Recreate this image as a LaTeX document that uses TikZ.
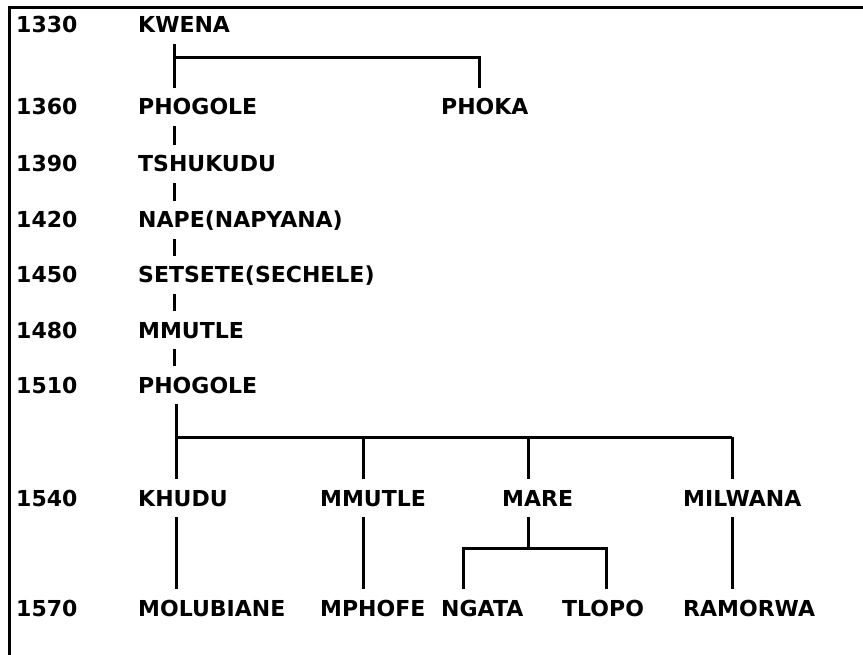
\documentclass[tikz,border=0pt]{standalone}
\usepackage{fontspec}
\setmainfont{DejaVu Sans}
\usetikzlibrary{positioning,calc}

\tikzset{
  yearlbl/.style={anchor=base west, font=\bfseries\fontsize{22}{22}\selectfont, inner sep=0pt},
  person/.style={anchor=base west, font=\bfseries\fontsize{22}{22}\selectfont,
    inner xsep=0pt, inner ysep=11pt, text height=16pt, text depth=0pt},
  link/.style={line width=3pt}
}

\begin{document}
\begin{tikzpicture}[x=1pt,y=-1pt]
\useasboundingbox (0,0) rectangle (863,655);
\draw[link] (9,655) -- (9,7.5) -- (863,7.5);

% years
\foreach \yr/\yb in {1330/33,1360/115,1390/172,1420/228,1450/283,1480/338,1510/393,1540/506,1570/616}
  \node[yearlbl] (y\yr) at (16,\yb) {\yr};

% line of descent
\node[person] (kwena) at (138,33) {KWENA};
\node[person] (phogoleA) at (138,115) {PHOGOLE};
\node[person] (phoka) at (441,115) {PHOKA};
\node[person] (tshukudu) at (138,172) {TSHUKUDU};
\node[person] (nape) at (138,228) {NAPE(NAPYANA)};
\node[person] (setsete) at (138,283) {SETSETE(SECHELE)};
\node[person] (mmutleA) at (138,338) {MMUTLE};
\node[person] (phogoleB) at (138,393) {PHOGOLE};
\node[person] (khudu) at (138,506) {KHUDU};
\node[person] (mmutleB) at (320,506) {MMUTLE};
\node[person] (mare) at (502,506) {MARE};
\node[person] (milwana) at (683,506) {MILWANA};
\node[person] (molubiane) at (138,616) {MOLUBIANE};
\node[person] (mphofe) at (320,616) {MPHOFE};
\node[person] (ngata) at (441,616) {NGATA};
\node[person] (tlopo) at (562,616) {TLOPO};
\node[person] (ramorwa) at (683,616) {RAMORWA};

% KWENA and his sons
\coordinate (kbar) at (174,58);
\coordinate (pbar) at (479,58);
\draw[link] (kbar |- kwena.south) -- (kbar |- phogoleA.north);
\draw[link] (kbar) -- (pbar) -- (pbar |- phoka.north);

\foreach \up/\dn in {phogoleA/tshukudu,tshukudu/nape,nape/setsete,setsete/mmutleA,mmutleA/phogoleB}
  \draw[link] (kbar |- \up.south) -- (kbar |- \dn.north);

% sons of PHOGOLE
\coordinate (bA) at (176,437);
\coordinate (bB) at (363,437);
\coordinate (bC) at (528,437);
\coordinate (bD) at (732,437);
\draw[link] (bA |- phogoleB.south) -- (bA) -- (bD);
\draw[link] (bA) -- (bA |- khudu.north);
\draw[link] (bB) -- (bB |- mmutleB.north);
\draw[link] (bC) -- (bC |- mare.north);
\draw[link] (bD) -- (bD |- milwana.north);

\draw[link] (bA |- khudu.south) -- (bA |- molubiane.north);
\draw[link] (bB |- mmutleB.south) -- (bB |- mphofe.north);
\draw[link] (bD |- milwana.south) -- (bD |- ramorwa.north);

% sons of MARE
\coordinate (mbar) at (528,548);
\coordinate (nx) at (463,548);
\coordinate (tx) at (606,548);
\draw[link] (bC |- mare.south) -- (mbar);
\draw[link] (nx |- ngata.north) -- (nx) -- (tx) -- (tx |- tlopo.north);
\end{tikzpicture}
\end{document}
